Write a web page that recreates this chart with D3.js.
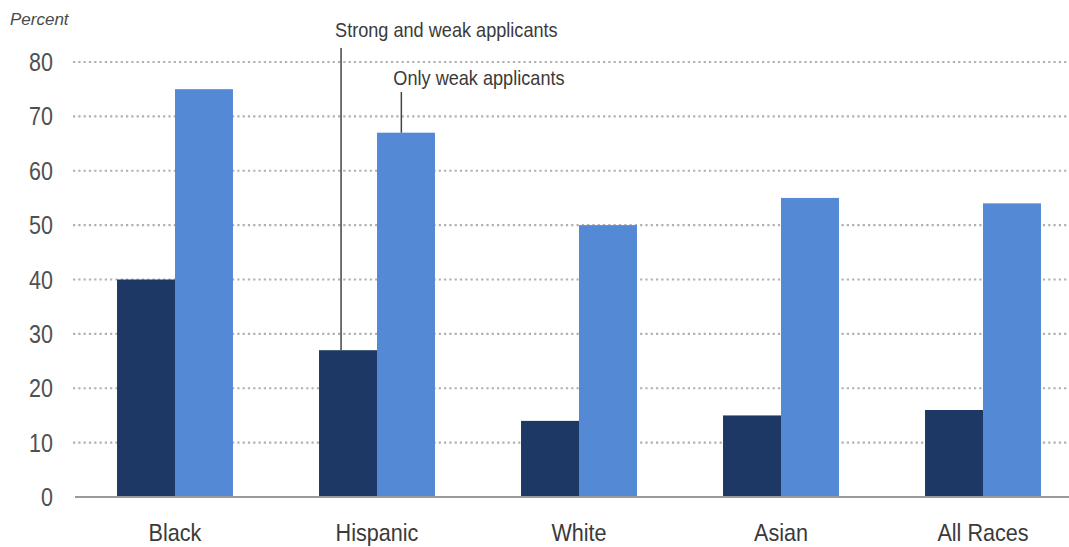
<!DOCTYPE html>
<html><head><meta charset="utf-8">
<script src="https://cdn.jsdelivr.net/npm/d3@7"></script>
<style>
html,body{margin:0;padding:0;background:#fff;}
svg{display:block;}
text{font-family:"Liberation Sans Narrow","Arial Narrow","Liberation Sans",Arial,sans-serif;}
</style></head>
<body>
<svg id="chart" width="1069" height="547"></svg>
<script>
const categories = ["Black","Hispanic","White","Asian","All Races"];
const series = ["Strong and weak applicants","Only weak applicants"];
const strongAndWeak = [40, 27, 14, 15, 16];
const onlyWeak = [75, 67, 50, 55, 54];
const yTicks = [0,10,20,30,40,50,60,70,80];
const colors = ["#1d3864","#5489d6"];

const svg = d3.select("#chart");
const x = d3.scaleBand().domain(categories).range([74,1084]).paddingInner(0.426).paddingOuter(0.213);
const xs = d3.scaleBand().domain(series).range([0, x.bandwidth()]);
const y = d3.scaleLinear().domain([0,80]).range([497,62]);

// grid
svg.append("g").selectAll("line").data(yTicks.filter(d=>d>0)).join("line")
  .attr("x1",73).attr("x2",1069)
  .attr("y1",d=>y(d)).attr("y2",d=>y(d))
  .attr("stroke","#b0b0b0").attr("stroke-width",2.2)
  .attr("stroke-dasharray","2.2,3.1");

// y tick labels (condensed)
svg.append("g").selectAll("text").data(yTicks).join("text")
  .attr("transform",d=>`translate(53,${y(d)}) scale(0.86,1)`)
  .attr("dy","0.36em")
  .attr("text-anchor","end").attr("font-size",25).attr("fill","#505050")
  .text(d=>d);

svg.append("text").attr("x",10).attr("y",25).attr("font-size",17)
  .attr("font-style","italic").attr("fill","#4a4a4a").text("Percent");

// bars
const data = categories.map((c,i)=>({c, vals:[strongAndWeak[i], onlyWeak[i]]}));
const g = svg.append("g").selectAll("g").data(data).join("g")
  .attr("transform",d=>`translate(${x(d.c)},0)`);
g.selectAll("rect").data(d=>d.vals.map((v,j)=>({s:series[j],v,j}))).join("rect")
  .attr("x",d=>xs(d.s)).attr("width",xs.bandwidth())
  .attr("y",d=>y(d.v)).attr("height",d=>y(0)-y(d.v))
  .attr("fill",d=>colors[d.j]);

// x axis line
svg.append("line").attr("x1",75).attr("x2",1069).attr("y1",y(0)).attr("y2",y(0))
  .attr("stroke","#9a9a9a").attr("stroke-width",2);

// category labels
svg.append("g").selectAll("text").data(categories).join("text")
  .attr("transform",d=>`translate(${x(d)+x.bandwidth()/2},541) scale(0.9,1)`)
  .attr("text-anchor","middle").attr("font-size",24).attr("fill","#3a3a3a")
  .text(d=>d);

// annotations
const hx = x("Hispanic");
const sx = hx + xs(series[0]) + xs.bandwidth()*0.38;
const ox = hx + xs(series[1]) + xs.bandwidth()*0.42;
svg.append("line").attr("x1",sx).attr("x2",sx).attr("y1",48).attr("y2",y(strongAndWeak[1]))
  .attr("stroke","#444").attr("stroke-width",1.5);
svg.append("text").attr("transform",`translate(${sx-6},37) scale(0.93,1)`)
  .attr("font-size",19.5).attr("fill","#3a3a3a")
  .text(series[0]);
svg.append("line").attr("x1",ox).attr("x2",ox).attr("y1",92).attr("y2",y(onlyWeak[1]))
  .attr("stroke","#444").attr("stroke-width",1.5);
svg.append("text").attr("transform",`translate(${ox-8},85) scale(0.93,1)`)
  .attr("font-size",19.5).attr("fill","#3a3a3a")
  .text(series[1]);
</script>
</body></html>
